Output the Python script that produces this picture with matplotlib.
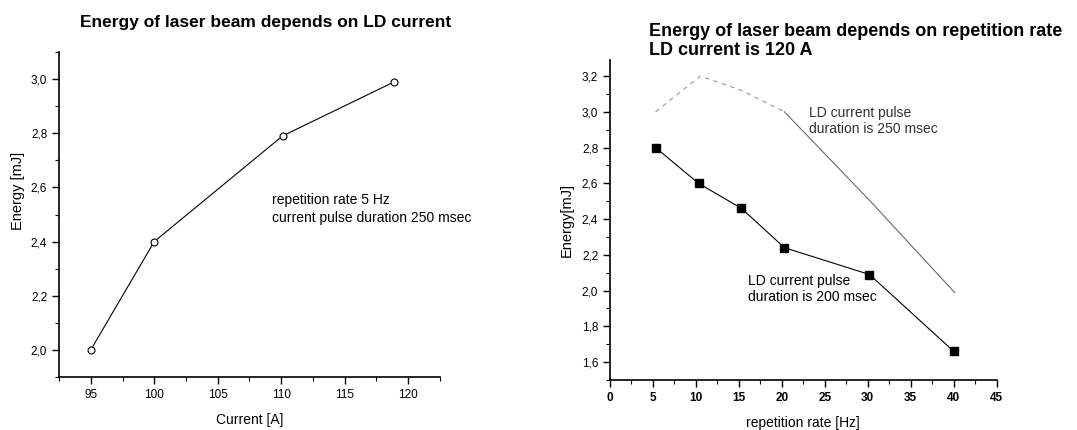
import numpy as np
import matplotlib
matplotlib.use("Agg")
import matplotlib.pyplot as plt
from matplotlib.ticker import MultipleLocator, FuncFormatter

plt.rcParams['font.family'] = ['Liberation Sans', 'DejaVu Sans']

# left chart: energy vs LD current
current = [95.0, 100.0, 110.1, 118.9]
energy_current = [2.00, 2.40, 2.79, 2.99]

# right chart: energy vs repetition rate
rate = [5.3, 10.3, 15.3, 20.3, 30.2, 40.0]
energy_200 = [2.80, 2.60, 2.46, 2.24, 2.09, 1.66]
rate_250 = [5.3, 10.5, 15.3, 20.3, 30.3, 40.1]
energy_250 = [3.00, 3.20, 3.12, 3.00, 2.50, 1.99]


def comma(v, pos):
    return ("%.1f" % v).replace('.', ',')


def style_axes(ax):
    for s in ['top', 'right']:
        ax.spines[s].set_visible(False)
    for s in ['left', 'bottom']:
        ax.spines[s].set_linewidth(1.2)
    ax.tick_params(which='major', direction='out', length=5, width=1, labelsize=8.5)
    ax.tick_params(which='minor', direction='out', length=3, width=0.8)
    ax.yaxis.set_major_formatter(FuncFormatter(comma))


fig = plt.figure(figsize=(10.77, 4.30), dpi=100)

ax1 = fig.add_axes([0.0548, 0.1233, 0.3537, 0.7557])
ax1.plot(current, energy_current, color='black', lw=0.8, marker='o', ms=5,
         mfc='white', mec='black', mew=0.8)
ax1.set_xlim(92.5, 122.5)
ax1.set_ylim(1.9, 3.1)
ax1.xaxis.set_major_locator(MultipleLocator(5))
ax1.xaxis.set_minor_locator(MultipleLocator(2.5))
ax1.yaxis.set_major_locator(MultipleLocator(0.2))
ax1.yaxis.set_minor_locator(MultipleLocator(0.1))
style_axes(ax1)
ax1.set_xlabel('Current [A]', fontsize=10, labelpad=9)
ax1.set_ylabel('Energy [mJ]', fontsize=10.5)
ax1.yaxis.set_label_coords(-0.09, 0.572)
ax1.text(109.3, 2.52, 'repetition rate 5 Hz\ncurrent pulse duration 250 msec',
         fontsize=10, va='center', ha='left', linespacing=1.4)
fig.text(0.247, 0.948, 'Energy of laser beam depends on LD current',
         fontsize=12.5, fontweight='bold', ha='center', va='center')

ax2 = fig.add_axes([0.5664, 0.1163, 0.3590, 0.7442])
ax2.plot(rate_250[:4], energy_250[:4], color='#9a9a9a', lw=0.8, ls=(0, (4, 4)))
ax2.plot(rate_250[3:], energy_250[3:], color='#6a6a6a', lw=0.8)
ax2.plot(rate, energy_200, color='black', lw=0.8, marker='s', ms=5.5,
         mfc='black', mec='black')
ax2.set_xlim(0, 45)
ax2.set_ylim(1.5, 3.29)
ax2.xaxis.set_major_locator(MultipleLocator(5))
ax2.xaxis.set_minor_locator(MultipleLocator(2.5))
ax2.yaxis.set_major_locator(MultipleLocator(0.2))
ax2.yaxis.set_minor_locator(MultipleLocator(0.1))
style_axes(ax2)
for lab in ax2.get_xticklabels():
    lab.set_fontweight('bold')
ax2.set_xlabel('repetition rate [Hz]', fontsize=10, labelpad=9)
ax2.set_ylabel('Energy[mJ]', fontsize=10.5, labelpad=6)
ax2.text(23.2, 2.95, 'LD current pulse\nduration is 250 msec',
         fontsize=10, va='center', ha='left', color='#333333', linespacing=1.2)
ax2.text(16.1, 2.01, 'LD current pulse\nduration is 200 msec',
         fontsize=10, va='center', ha='left', linespacing=1.2)
fig.text(0.6025, 0.905, 'Energy of laser beam depends on repetition rate\nLD current is 120 A',
         fontsize=13, fontweight='bold', ha='left', va='center', linespacing=1.15)

fig.savefig('out.png', dpi=100)
